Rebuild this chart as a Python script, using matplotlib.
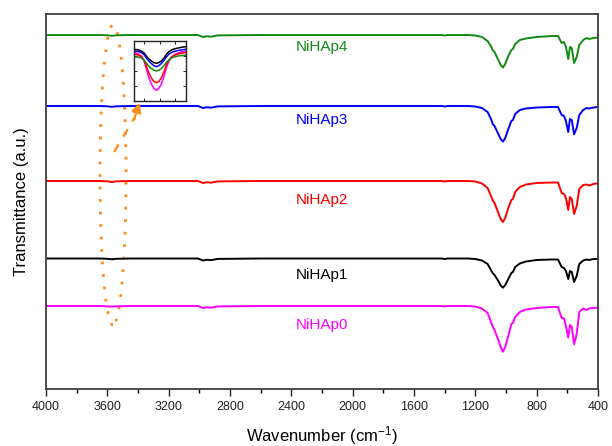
import numpy as np
import matplotlib
matplotlib.use("Agg")
import matplotlib.pyplot as plt
from matplotlib.patches import Ellipse

plt.rcParams["font.family"] = ["Liberation Sans", "DejaVu Sans"]
plt.rcParams["mathtext.default"] = "regular"

# wavenumber grid (cm-1) shared by all spectra
wn = [4000, 3800, 3650, 3600, 3570, 3540, 3450, 3200, 3050, 3010, 2976, 2950, 2925, 2880,
      2600, 2200, 1800, 1600, 1450, 1420, 1400, 1380, 1250, 1200, 1157, 1120, 1095, 1087,
      1075, 1050, 1035, 1020, 1005, 985, 965, 955, 940, 910, 870, 800, 700, 661, 637, 622,
      609, 594, 583, 571, 556, 539, 522, 497, 474, 459, 430, 400]

# transmittance (a.u., stacked)
t_hap4 = [354, 354, 354, 353.7, 353.2, 353.7, 354, 354, 354, 354, 352, 352.8, 352.3, 353.6,
          354, 354, 354, 354, 354, 354, 353.5, 354, 354, 353.5, 352, 348, 342, 339,
          337, 329, 324, 321.5, 325, 333, 339, 340, 345, 349, 350.5, 352, 353, 353, 346, 347,
          342, 330, 342, 341, 326, 332, 344, 349, 351, 350, 351, 351.5]
t_hap3 = [283, 283, 283, 282.7, 282.2, 282.7, 283, 283, 283, 283, 281, 281.8, 281.3, 282.6,
          283, 283, 283, 283, 283, 283, 282.5, 283, 283, 282.5, 281, 277, 269, 265,
          263, 255, 250, 247.3, 251, 260, 268, 269, 275, 279, 280.5, 281.5, 282, 282, 274, 273,
          268, 257, 270, 269, 254.7, 261, 274, 279, 281, 280.5, 281.5, 282]
t_hap2 = [208, 208, 208, 207.7, 207, 207.7, 208, 208, 208, 208, 206, 206.8, 206.3, 207.6,
          208, 208, 208, 208, 208, 208, 207.5, 208, 208, 207.5, 205.5, 201, 192, 189,
          186, 176, 170, 167, 171, 181, 189, 190, 197, 202, 204.5, 206, 206.5, 206.5, 196, 195,
          191, 179, 192, 190, 175, 183, 200, 204, 204.5, 203.5, 205, 205.7]
t_hap1 = [130.5, 130.5, 130.5, 130.2, 129.7, 130.2, 130.5, 130.5, 130.5, 130.5, 128.5, 129.3, 128.8, 130.1,
          130.5, 130.5, 130.5, 130.5, 130.5, 130.5, 130, 130.5, 130.5, 130, 128.5, 125, 118, 116,
          114, 108, 103.5, 101.3, 104, 110, 116, 117, 122, 125.5, 127.5, 129, 129.5, 129.5, 122, 121,
          118, 110, 118, 117, 107, 113, 125, 128.5, 129.5, 129, 130, 130]
t_hap0 = [83, 83, 83, 82.7, 82.3, 82.7, 83, 83, 83, 83, 81, 81.8, 81.3, 82.6,
          83, 83, 83, 83, 83, 83, 82.5, 83, 83, 82.5, 80.5, 76, 66, 62.3,
          59, 49, 42, 37.3, 42, 53, 65, 66, 72, 77, 79.5, 81, 82, 82, 71, 70.7,
          63, 51.3, 64, 62, 44.7, 55, 77, 80.5, 79, 80.5, 81, 81.3]

names = ["NiHAp0", "NiHAp1", "NiHAp2", "NiHAp3", "NiHAp4"]
colors = ["#ff00ff", "black", "#ff0000", "#0000ff", "#138a13"]
spectra = [t_hap0, t_hap1, t_hap2, t_hap3, t_hap4]
label_y = [64, 114, 189, 269, 342]

# inset: O-H band region
wn_inset = [3700, 3680, 3664, 3651, 3640, 3629, 3616, 3603, 3591, 3580, 3567, 3554,
            3543, 3531, 3518, 3502, 3486, 3470, 3450]
inset_hap1 = [51.7, 51.2, 50, 48, 45, 42.3, 40, 38.3, 37.7, 38.3, 40, 43,
              46.7, 49.3, 51, 52.3, 53, 53.7, 54.3]
inset_hap3 = [50, 49.5, 48.5, 46.3, 43, 40, 37.5, 35.3, 34.3, 35.3, 37.5, 40.8,
              44, 46.8, 48.5, 49.8, 50.5, 51.1, 51.7]
inset_hap0 = [48.3, 47.3, 45, 40, 32, 24, 17, 12.5, 10.7, 12.5, 17, 25,
              33, 39.5, 44, 46.5, 48, 49.2, 50]
inset_hap2 = [46.7, 46, 44.5, 40.5, 35, 28.5, 23, 19.5, 18.3, 19.5, 23, 29.5,
              36, 40.8, 44, 45.8, 47, 47.7, 48.3]
inset_hap4 = [44.3, 43.9, 43, 41, 38, 35, 32.5, 30.7, 30, 30.7, 32.5, 35.5,
              38.5, 41, 43, 44.2, 45, 45.4, 45.7]
inset_series = [inset_hap0, inset_hap1, inset_hap2, inset_hap3, inset_hap4]

fig = plt.figure(figsize=(6.12, 4.46), dpi=100)
ax = fig.add_axes([46 / 612, 57 / 446, 552 / 612, 375 / 446])

for t, c in zip(spectra, colors):
    ax.plot(wn, t, color=c, lw=1.4)
for name, c, y in zip(names, colors, label_y):
    ax.text(2200, y, name, color=c, fontsize=11, ha="center", va="center")

ax.set_xlim(4000, 400)
ax.set_ylim(0, 375)
ax.set_xticks(np.arange(4000, 399, -400))
ax.set_xticks(np.arange(4000, 399, -200), minor=True)
ax.tick_params(axis="x", which="major", direction="out", length=5, width=1, labelsize=9, colors="#222222")
ax.tick_params(axis="x", which="minor", direction="out", length=3, width=1)
ax.set_yticks([])
for s in ax.spines.values():
    s.set_color("#404040")
    s.set_linewidth(1.3)
ax.set_xlabel("Wavenumber (cm$^{-1}$)", fontsize=12, labelpad=8)
ax.set_ylabel("Transmittance (a.u.)", fontsize=12, labelpad=12)

orange = "#ff8c1a"
ax.add_patch(Ellipse((3563, 214), 170, 300, fill=False, edgecolor=orange,
                     lw=2, linestyle=(0, (1, 3.5))))
ax.plot([3556, 3420], [237, 272], color=orange, lw=1.6, linestyle=(0, (4, 4)))
ax.annotate("", xy=(3385, 289), xytext=(3430, 267),
            arrowprops=dict(arrowstyle="-|>", color=orange, lw=1.6, mutation_scale=14))

ins = fig.add_axes([134 / 612, (446 - 101) / 446, 51.5 / 612, 60 / 446])
for t, c in zip(inset_series, colors):
    ins.plot(wn_inset, t, color=c, lw=1.1)
ins.set_xlim(3700, 3450)
ins.set_ylim(0, 60)
ins.set_xticks([3650, 3575, 3500])
ins.set_yticks([15, 30, 45])
ins.tick_params(which="both", direction="in", length=2, width=0.6, top=True, right=True,
                labelbottom=False, labelleft=False)
for s in ins.spines.values():
    s.set_color("#222222")
    s.set_linewidth(1.0)

fig.savefig("out.png", dpi=100)
